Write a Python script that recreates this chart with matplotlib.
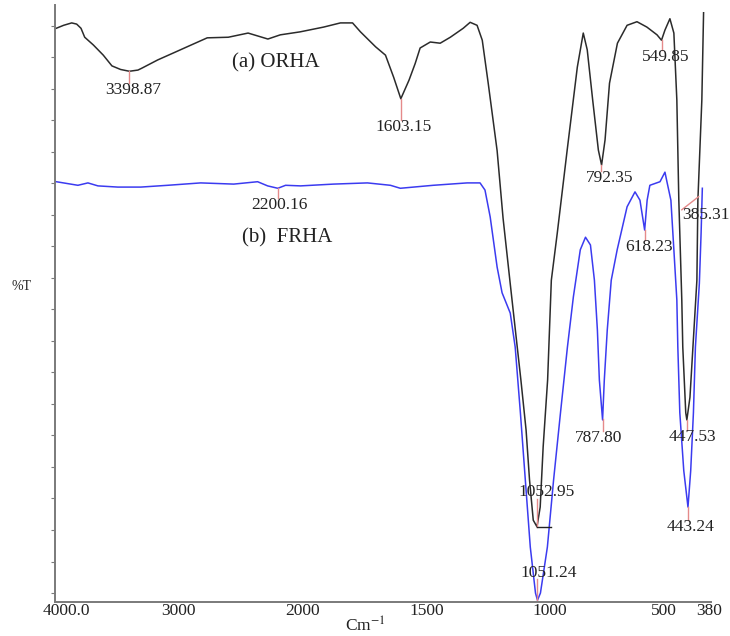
import numpy as np
import matplotlib
matplotlib.use("Agg")
import matplotlib.pyplot as plt
from matplotlib.transforms import ScaledTranslation

plt.rcParams["font.family"] = "Liberation Serif"
plt.rcParams["mathtext.fontset"] = "stix"

# (a) ORHA spectrum (wavenumber cm-1, %T)
orha_wn = [3990, 3930, 3865, 3825, 3790, 3760, 3690, 3610, 3540, 3470, 3399, 3330,
           3300, 3170, 3040, 2900, 2770, 2600, 2440, 2280, 2180, 2020, 1915, 1847,
           1798, 1766, 1705, 1665, 1632, 1603, 1570, 1545, 1525, 1484, 1444, 1403,
           1351, 1323, 1295, 1274, 1250, 1214, 1190, 1161, 1118, 1097, 1083, 1068,
           1053, 1040, 1028, 1010, 995, 971, 931, 890, 866, 850, 828, 805, 792, 778,
           760, 728, 689, 649, 609, 568, 550, 536, 516, 500, 488, 480, 468, 464, 452,
           447.5, 435, 423, 407, 403, 387, 380]
orha_t = [96.1, 96.6, 97.0, 96.8, 96.1, 94.6, 93.3, 91.6, 89.8, 89.2, 88.9, 89.1,
          89.4, 90.8, 92.0, 93.3, 94.5, 94.6, 95.3, 94.3, 95.0, 95.5, 96.3, 97.0,
          97.0, 95.5, 93.0, 91.6, 87.9, 84.3, 87.4, 90.2, 92.8, 93.8, 93.6, 94.6,
          96.1, 97.1, 96.6, 94.1, 86.9, 75.6, 64.3, 53.3, 37.2, 28.8, 20.4, 13.7,
          12.6, 15.9, 26.0, 37.2, 53.9, 61.8, 75.7, 89.6, 95.3, 92.5, 84.1, 75.7, 73.2, 77.4,
          86.9, 93.6, 96.6, 97.2, 96.3, 95.0, 94.1, 95.8, 97.7, 95.3, 84.1, 67.3, 50.6, 42.7, 31.7,
          30.5, 34.3, 42.7, 53.9, 67.3, 84.1, 98.7]

# (b) FRHA spectrum
frha_wn = [3990, 3815, 3734, 3653, 3492, 3307, 3089, 2823, 2556, 2363, 2282, 2200,
           2137, 2016, 1875, 1738, 1645, 1605, 1472, 1335, 1283, 1263, 1242, 1214,
           1194, 1161, 1141, 1120, 1100, 1080, 1059, 1051, 1039, 1011, 986, 958, 930,
           906, 878, 857, 837, 821, 809, 801, 788, 781, 769, 753, 729, 689, 657, 637,
           618, 608, 597, 556, 536, 528, 512, 500, 488, 484, 476, 460, 443, 432, 421,
           413, 397, 390, 385]
frha_t = [70.4, 69.8, 70.2, 69.7, 69.5, 69.5, 69.8, 70.2, 70.0, 70.4, 69.7, 69.3,
          69.8, 69.7, 70.0, 70.2, 69.8, 69.3, 69.8, 70.2, 70.2, 69.0, 64.5, 56.1,
          51.8, 48.4, 42.7, 31.7, 20.4, 9.2, 1.5, 0.3, 1.5, 9.2, 20.4, 31.7, 42.7,
          51.1, 59.0, 61.1, 59.8, 53.9, 45.6, 37.2, 30.5, 37.2, 45.6, 53.9, 59.0, 66.2, 68.7, 67.3,
          62.3, 67.3, 69.8, 70.4, 72.0, 70.4, 67.3, 59.0, 50.6, 42.7, 31.7, 22.0, 15.9, 22.0, 31.7,
          42.7, 53.4, 61.8, 69.3]

# peak labels
orha_peaks = [3398.87, 1603.15, 1052.95, 792.35, 549.85, 447.53]
frha_peaks = [2200.16, 1051.24, 787.80, 618.23, 443.24, 385.31]

tick_vals = [4000, 3000, 2000, 1500, 1000, 500, 380]
tick_text = ["4000.0", "3000", "2000", "1500", "1000", "500", "380"]


# x axis is expanded 2x below 2000 cm-1
def fwd(x):
    x = np.asarray(x, dtype=float)
    return np.where(x > 2000, 2000 + (x - 2000) / 2, x)


def inv(u):
    u = np.asarray(u, dtype=float)
    return np.where(u > 2000, 2000 + (u - 2000) * 2, u)


fig = plt.figure(figsize=(7.3, 6.36), dpi=100)
ax = fig.add_axes([55 / 730, 34 / 636, 656 / 730, 597 / 636])
ax.set_xscale("function", functions=(fwd, inv))
ax.set_xlim(4000, 350)
ax.set_ylim(0, 100)

ax.plot(orha_wn, orha_t, color="#2b2b2b", lw=1.1)
ax.plot(frha_wn, frha_t, color="#3b3bf0", lw=1.1)

red = "#e58a8a"


def peak_t(wn, xs, ys):
    return np.interp(wn, xs[::-1], ys[::-1])


# label centre positions (wavenumber, %T)
orha_pos = [(3370, 85.8), (1590, 79.6), (1015, 18.4), (760, 71.0), (534, 91.3), (423, 27.6)]
frha_pos = [(2185, 66.5), (1007, 4.9), (805, 27.5), (601, 59.5), (431, 12.6), (372, 64.8)]

for peaks, pos, xs, ys in [(orha_peaks, orha_pos, orha_wn, orha_t),
                           (frha_peaks, frha_pos, frha_wn, frha_t)]:
    for p, (lx, ly) in zip(peaks, pos):
        pt = peak_t(p, np.array(xs, float), np.array(ys, float))
        if p < 390:
            ax.plot([468, 400], [65.7, 67.9], color=red, lw=1)
        elif ly < pt:
            ax.plot([p, p], [pt, ly + 1.2], color=red, lw=1)
        else:
            ax.plot([p, p], [pt, ly - 1.1], color=red, lw=1)
        ax.text(lx, ly, f"{p:.2f}", ha="center", va="center", fontsize=12.5, color="#222222")

# small baseline tick under the 1052.95 minimum
ax.plot([1053, 995], [12.6, 12.6], color="#222222", lw=1)

ax.text(2218, 90.3, "(a) ORHA", ha="center", va="center", fontsize=15, color="#222222")
ax.text(2121, 61.0, "(b)  FRHA", ha="center", va="center", fontsize=15, color="#222222")

for s in ["top", "right"]:
    ax.spines[s].set_visible(False)
for s in ["left", "bottom"]:
    ax.spines[s].set_color("#7a7a7a")
    ax.spines[s].set_linewidth(1.4)

ax.set_yticks(np.arange(1.5, 99, 5.28))
ax.tick_params(axis="y", length=3, color="#7a7a7a", labelleft=False)
ax.set_xticks(tick_vals)
ax.set_xticklabels(tick_text, fontsize=12.5, color="#222222")
ax.tick_params(axis="x", length=0, pad=1)
ax.xaxis.set_minor_locator(matplotlib.ticker.NullLocator())

shifts = {0: 11, 5: -10, 6: 6}
for i, lab in enumerate(ax.get_xticklabels()):
    if i in shifts:
        lab.set_transform(lab.get_transform() + ScaledTranslation(shifts[i] / 100, 0, fig.dpi_scale_trans))

ax.set_xlabel("Cm$^{-1}$", fontsize=12.5, color="#222222")
ax.xaxis.set_label_coords(310 / 656, -0.025)
fig.text(22 / 730, 1 - 287 / 636, "%T", ha="center", va="center", fontsize=10, color="#222222")

fig.savefig("out.png", dpi=100)
